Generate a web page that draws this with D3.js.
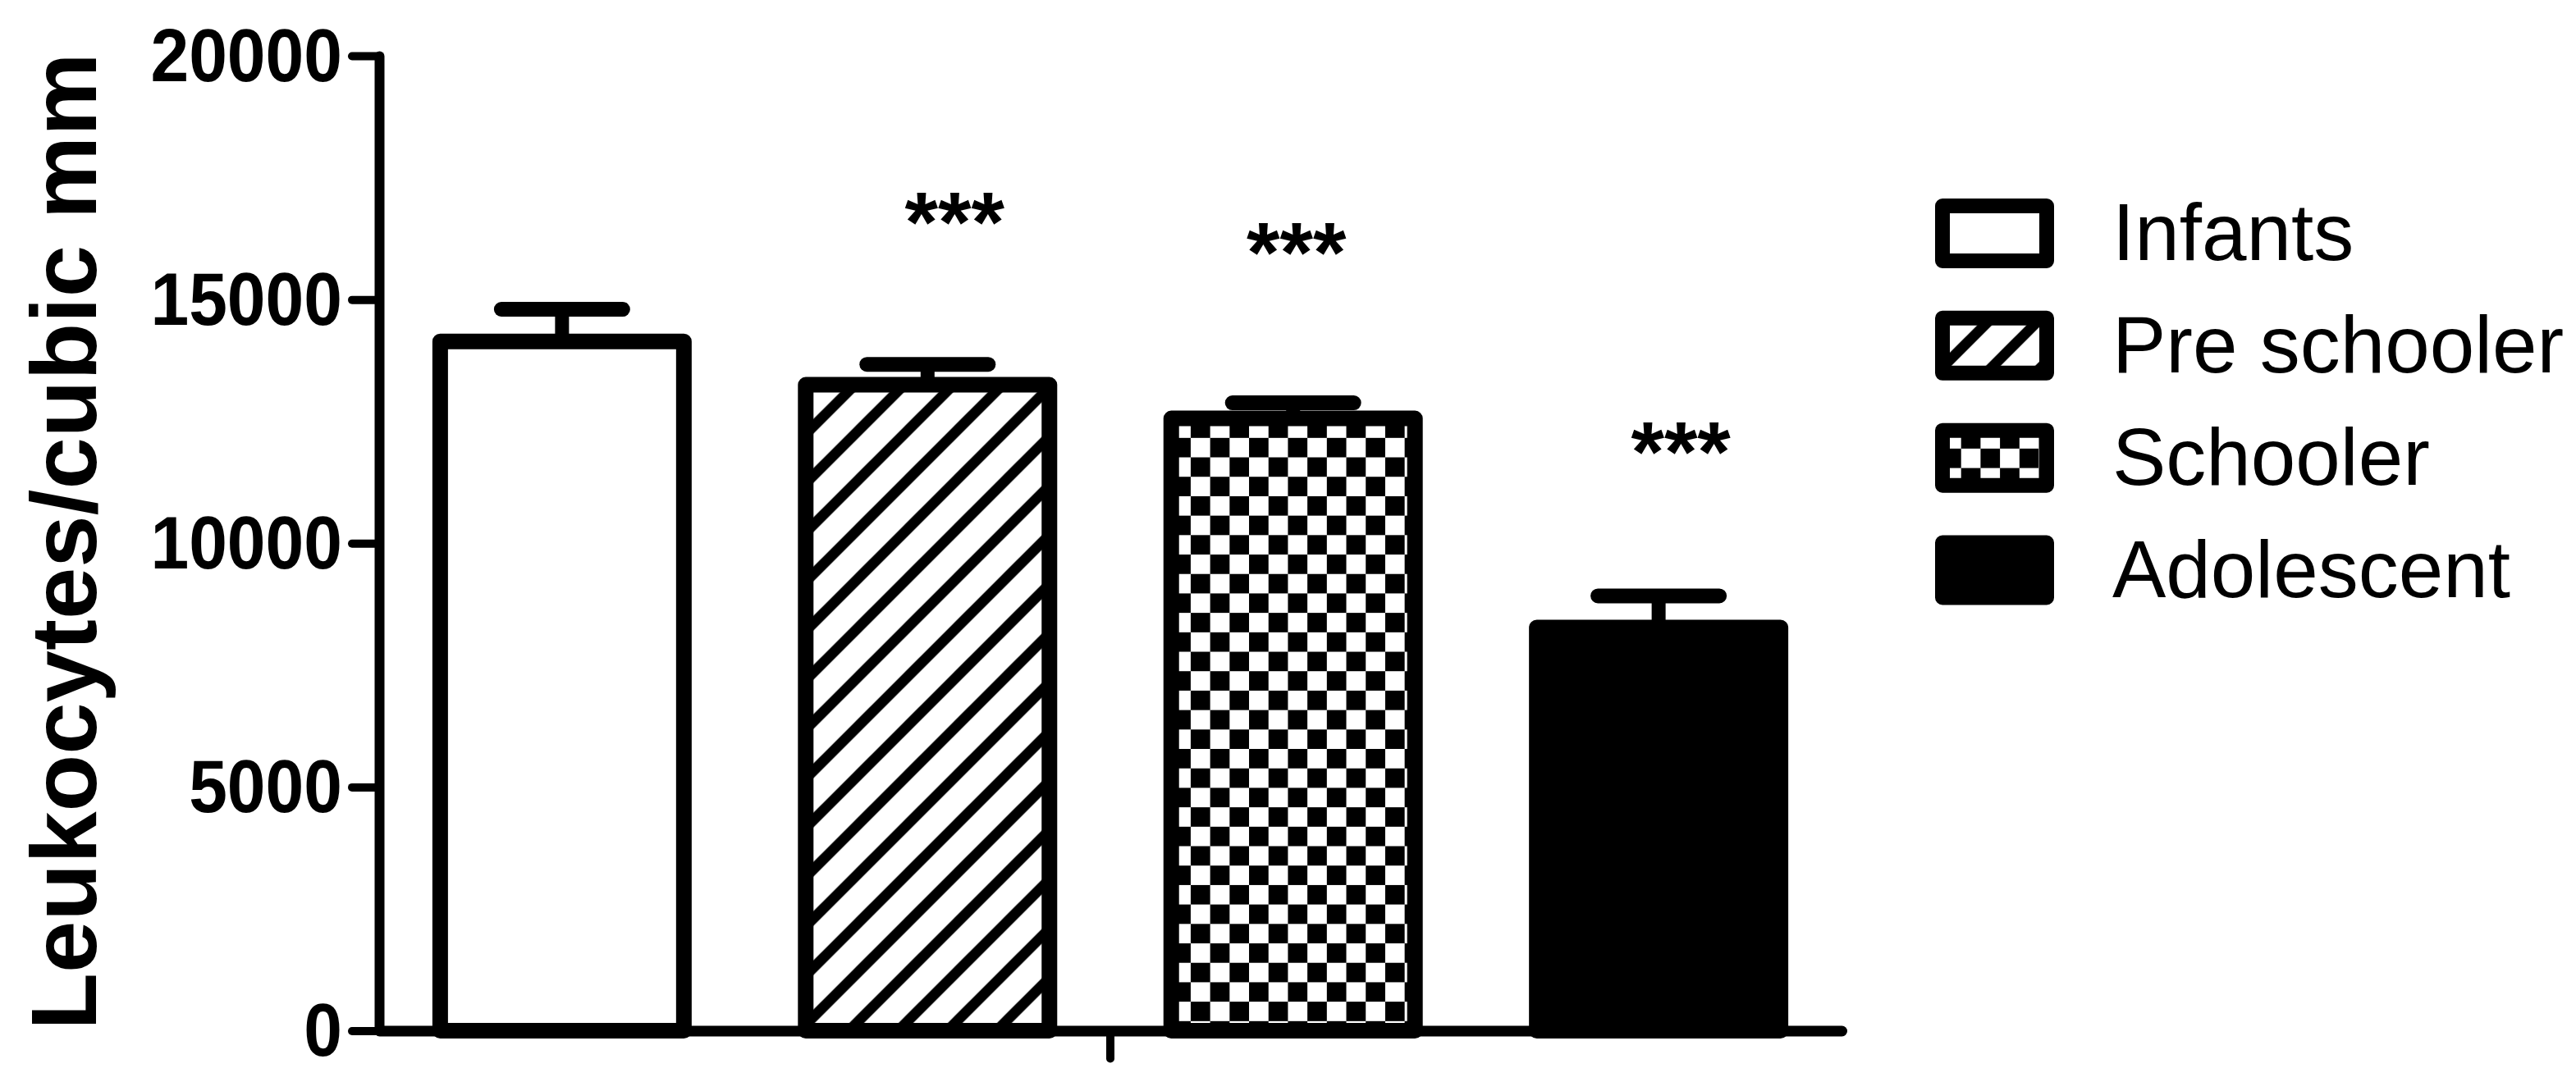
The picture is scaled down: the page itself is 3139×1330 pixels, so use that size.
<!DOCTYPE html>
<html>
<head>
<meta charset="utf-8">
<script src="https://cdn.jsdelivr.net/npm/d3@7"></script>
<style>
  body { margin: 0; background: #fff; }
  text { font-family: Arial, "Liberation Sans", sans-serif; }
</style>
</head>
<body>
<svg id="chart" width="3139" height="1330"></svg>
<script>
// data
const groups = ["Infants", "Pre schooler", "Schooler", "Adolescent"];
const means = [14140, 13250, 12560, 8270];
const sems = [660, 420, 320, 650];
const stars = ["", "***", "***", "***"];
const starY = [null, 17220, 16600, 12510];
const yTicks = [0, 5000, 10000, 15000, 20000];
const yLabel = "Leukocytes/cubic mm";

const width = 3139, height = 1330;
const starDx = [0, 33, 4, 27];

const svg = d3.select("#chart");
svg.append("rect").attr("width", width).attr("height", height).attr("fill", "#fff");

const y = d3.scaleLinear().domain([0, 20000]).range([1256.5, 68]);
const x = d3.scaleBand()
            .domain(groups)
            .range([462, 2244])
            .paddingInner(0.3333)
            .paddingOuter(0.167);
const xGroup = d3.scaleBand().domain(["all"]).range([462, 2244]);
const legendY = d3.scalePoint().domain(groups).range([284.5, 695]);

const defs = svg.append("defs");

const makeHatch = (id, px, py) => {
    const p = defs.append("pattern")
                  .attr("id", id)
                  .attr("patternUnits", "userSpaceOnUse")
                  .attr("x", px).attr("y", py)
                  .attr("width", 60).attr("height", 60);
    p.append("path")
     .attr("d", "M0,60 L60,0 M-10,10 L10,-10 M50,70 L70,50")
     .attr("stroke", "#000")
     .attr("stroke-width", 12.7)
     .attr("fill", "none");
};

const makeChecker = (id, px, py) => {
    const s = 23.7;
    const p = defs.append("pattern")
                  .attr("id", id)
                  .attr("patternUnits", "userSpaceOnUse")
                  .attr("x", px).attr("y", py)
                  .attr("width", 2 * s).attr("height", 2 * s);
    p.append("rect").attr("width", 2 * s).attr("height", 2 * s).attr("fill", "#fff");
    p.append("rect").attr("x", s).attr("y", 0).attr("width", s).attr("height", s).attr("fill", "#000");
    p.append("rect").attr("x", 0).attr("y", s).attr("width", s).attr("height", s).attr("fill", "#000");
};

makeHatch("hatch", x(groups[1]), y(means[1]));
makeChecker("checker", x(groups[2]), y(means[2]));
makeHatch("hatch-lg", 2376, legendY(groups[1]) - 42.5);
makeChecker("checker-lg", 2366, legendY(groups[2]) - 35);

const fills = ["#fff", "url(#hatch)", "url(#checker)", "#000"];
const legendFills = ["#fff", "url(#hatch-lg)", "url(#checker-lg)", "#000"];

// bars
svg.append("g")
   .selectAll("rect")
   .data(groups)
   .enter()
   .append("rect")
        .attr("x", d => x(d))
        .attr("y", (d, i) => y(means[i]))
        .attr("width", x.bandwidth())
        .attr("height", (d, i) => y(0) - y(means[i]))
        .attr("fill", (d, i) => fills[i])
        .attr("stroke", "#000")
        .attr("stroke-width", 19)
        .attr("stroke-linejoin", "round");

// error bars (upper only)
const err = svg.append("g").selectAll("g").data(groups).enter().append("g");
err.append("line")
   .attr("x1", d => x(d) + x.bandwidth() / 2)
   .attr("x2", d => x(d) + x.bandwidth() / 2)
   .attr("y1", (d, i) => y(means[i]))
   .attr("y2", (d, i) => y(means[i] + sems[i]))
   .attr("stroke", "#000")
   .attr("stroke-width", 17);
err.append("line")
   .attr("x1", d => x(d) + x.bandwidth() / 2 - 74)
   .attr("x2", d => x(d) + x.bandwidth() / 2 + 74)
   .attr("y1", (d, i) => y(means[i] + sems[i]))
   .attr("y2", (d, i) => y(means[i] + sems[i]))
   .attr("stroke", "#000")
   .attr("stroke-width", 18)
   .attr("stroke-linecap", "round");

// significance marks
svg.append("g")
   .selectAll("text")
   .data(groups)
   .enter()
   .append("text")
        .attr("x", (d, i) => x(d) + x.bandwidth() / 2 + starDx[i])
        .attr("y", (d, i) => starY[i] === null ? 0 : y(starY[i]) + 74)
        .attr("text-anchor", "middle")
        .attr("font-size", 104)
        .attr("font-weight", "bold")
        .text((d, i) => stars[i]);

// axes
const yAxis = d3.axisLeft(y)
                .tickValues(yTicks)
                .tickSize(33)
                .tickSizeOuter(0)
                .tickFormat(d3.format("d"));
const gy = svg.append("g")
              .attr("transform", "translate(462, 0)")
              .call(yAxis);
gy.attr("font-size", 84)
  .attr("font-weight", "bold")
  .attr("font-family", "Arial, 'Liberation Sans', sans-serif");
gy.select(".domain").attr("stroke-width", 12).attr("stroke-linecap", "round");
gy.selectAll(".tick line").attr("stroke-width", 10).attr("stroke-linecap", "round");
gy.selectAll(".tick text")
  .attr("x", 0)
  .attr("dy", null)
  .attr("fill", "#000")
  .attr("transform", "translate(-45, 30) scale(1, 1.08)");

const xAxis = d3.axisBottom(xGroup).tickSize(34).tickSizeOuter(0).tickFormat("");
const gx = svg.append("g")
              .attr("transform", `translate(0, ${y(0)})`)
              .call(xAxis);
gx.select(".domain").attr("stroke-width", 13).attr("stroke-linecap", "round");
gx.selectAll(".tick line").attr("stroke-width", 10).attr("stroke-linecap", "round");

// y axis title
svg.append("text")
   .attr("transform", "translate(117, 660) rotate(-90)")
   .attr("text-anchor", "middle")
   .attr("font-size", 114)
   .attr("font-weight", "bold")
   .text(yLabel);

// legend
const lg = svg.append("g").selectAll("g").data(groups).enter().append("g");
lg.append("rect")
  .attr("x", 2367)
  .attr("y", d => legendY(d) - 33.5)
  .attr("width", 127)
  .attr("height", 67)
  .attr("fill", (d, i) => legendFills[i])
  .attr("stroke", "#000")
  .attr("stroke-width", 18)
  .attr("stroke-linejoin", "round");
lg.append("text")
  .attr("x", 2574)
  .attr("y", d => legendY(d) + 32.5)
  .attr("font-size", 98)
  .text(d => d);
</script>
</body>
</html>
